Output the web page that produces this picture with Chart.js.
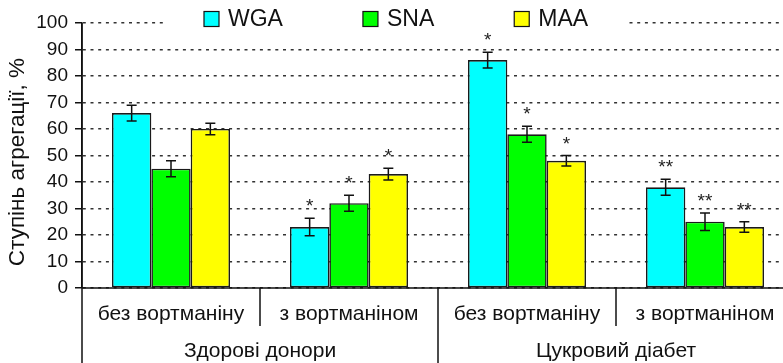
<!DOCTYPE html>
<html>
<head>
<meta charset="utf-8">
<script src="https://cdn.jsdelivr.net/npm/chart.js@4/dist/chart.umd.min.js"></script>
<style>
  html, body { margin: 0; padding: 0; background: #fff; overflow: hidden; }
  #wrap { width: 783px; height: 363px; overflow: hidden; }
</style>
</head>
<body>
<div id="wrap"><canvas id="c" width="800" height="363"></canvas></div>
<script>
// Categories: treatment (inner level) and patient group (outer level)
const categories = ['без вортманіну', 'з вортманіном', 'без вортманіну', 'з вортманіном'];
const groups = ['Здорові донори', 'Цукровий діабет'];

// Series names and colours
const seriesNames = ['WGA', 'SNA', 'MAA'];
const seriesColors = ['#00FFFF', '#00FF00', '#FFFF00'];

// Mean aggregation degree, %
const wgaValues = [66, 23, 86, 38];
const snaValues = [45, 32, 58, 25];
const maaValues = [60, 43, 48, 23];

// Error (±)
const wgaErrors = [3, 3.3, 3, 3];
const snaErrors = [3, 3, 3, 3.3];
const maaErrors = [2.2, 2.2, 2, 2];

// Significance marks
const wgaMarks = ['', '*', '*', '**'];
const snaMarks = ['', '*', '*', '**'];
const maaMarks = ['', '*', '*', '**'];

// Y axis ticks
const yMin = 0, yMax = 100, yStep = 10;
const yTitle = 'Ступінь агрегації, %';

const FONT = '"Liberation Sans", Arial, sans-serif';

const valueSets = [wgaValues, snaValues, maaValues];
const errorSets = [wgaErrors, snaErrors, maaErrors];
const markSets = [wgaMarks, snaMarks, maaMarks];

const datasets = seriesNames.map((name, i) => ({
  label: name,
  data: valueSets[i],
  errors: errorSets[i],
  marks: markSets[i],
  backgroundColor: seriesColors[i],
  borderColor: '#1a1a1a',
  borderWidth: 1.6,
  borderSkipped: false,
  categoryPercentage: 0.663,
  barPercentage: 1.0
}));

// Legend drawn over the top grid line, before the bars and marks
const legendPlugin = {
  id: 'topLegend',
  beforeDatasetsDraw(chart) {
    const ctx = chart.ctx;
    ctx.save();
    ctx.fillStyle = '#fff';
    ctx.fillRect(166, 6, 462, 26);
    ctx.font = '23px ' + FONT;
    ctx.textAlign = 'left';
    ctx.textBaseline = 'middle';
    let lx = 204;
    const ly = 19;
    chart.data.datasets.forEach((ds) => {
      ctx.fillStyle = ds.backgroundColor;
      ctx.fillRect(lx, ly - 7.5, 15, 15);
      ctx.strokeStyle = '#111';
      ctx.lineWidth = 1.2;
      ctx.strokeRect(lx, ly - 7.5, 15, 15);
      ctx.fillStyle = '#111';
      ctx.fillText(ds.label, lx + 24, ly + 1);
      lx += 24 + ctx.measureText(ds.label).width + 80;
    });
    ctx.restore();
  }
};

// Error bars with significance marks above them
const errorBarPlugin = {
  id: 'errorBars',
  afterDatasetsDraw(chart) {
    const ctx = chart.ctx;
    const y = chart.scales.y;
    ctx.save();
    chart.data.datasets.forEach((ds, di) => {
      const meta = chart.getDatasetMeta(di);
      meta.data.forEach((bar, j) => {
        const v = ds.data[j], e = ds.errors[j];
        const yt = y.getPixelForValue(v + e);
        const yb = y.getPixelForValue(v - e);
        const x = bar.x, cap = 5;
        ctx.strokeStyle = '#111';
        ctx.lineWidth = 1.5;
        ctx.beginPath();
        ctx.moveTo(x, yt); ctx.lineTo(x, yb);
        ctx.moveTo(x - cap, yt); ctx.lineTo(x + cap, yt);
        ctx.moveTo(x - cap, yb); ctx.lineTo(x + cap, yb);
        ctx.stroke();
        const m = ds.marks[j];
        if (m) {
          ctx.fillStyle = '#222';
          ctx.font = '19px ' + FONT;
          ctx.textAlign = 'center';
          ctx.textBaseline = 'alphabetic';
          ctx.fillText(m, x, yt - 6);
        }
      });
    });
    ctx.restore();
  }
};

// Two-level category axis and y title
const decorPlugin = {
  id: 'decor',
  afterDraw(chart) {
    const ctx = chart.ctx;
    const area = chart.chartArea;
    const xs = chart.scales.x;
    const H = chart.height;
    ctx.save();
    ctx.strokeStyle = '#111';
    ctx.lineWidth = 1.5;

    // axis lines
    ctx.beginPath();
    ctx.moveTo(area.left, area.bottom); ctx.lineTo(area.right, area.bottom);
    ctx.moveTo(area.left, area.top); ctx.lineTo(area.left, H);
    ctx.stroke();

    // separators between categories
    const n = categories.length;
    const perGroup = n / groups.length;
    for (let i = 1; i < n; i++) {
      const bx = (xs.getPixelForValue(i - 1) + xs.getPixelForValue(i)) / 2;
      const toBottom = (i % perGroup === 0);
      ctx.beginPath();
      ctx.moveTo(bx, area.bottom);
      ctx.lineTo(bx, toBottom ? H : area.bottom + 38);
      ctx.stroke();
    }

    // category and group labels
    ctx.fillStyle = '#111';
    ctx.textAlign = 'center';
    ctx.textBaseline = 'middle';
    ctx.font = '21px ' + FONT;
    categories.forEach((c, i) => {
      ctx.fillText(c, xs.getPixelForValue(i), area.bottom + 26);
    });
    groups.forEach((g, k) => {
      const a = xs.getPixelForValue(k * perGroup);
      const b = xs.getPixelForValue(k * perGroup + perGroup - 1);
      ctx.fillText(g, (a + b) / 2, area.bottom + 63);
    });

    // y axis title
    ctx.save();
    ctx.translate(18, 162);
    ctx.rotate(-Math.PI / 2);
    ctx.font = '22.5px ' + FONT;
    ctx.fillText(yTitle, 0, 0);
    ctx.restore();
    ctx.restore();
  }
};

new Chart(document.getElementById('c'), {
  type: 'bar',
  data: { labels: categories, datasets },
  options: {
    responsive: false,
    animation: false,
    devicePixelRatio: 1,
    layout: { padding: { top: 23, right: 6, bottom: 75, left: 0 } },
    plugins: { legend: { display: false }, tooltip: { enabled: false } },
    scales: {
      x: { display: false },
      y: {
        min: yMin, max: yMax,
        afterFit(scale) { scale.width = 82; },
        ticks: {
          stepSize: yStep,
          color: '#111',
          padding: 7,
          font: { family: FONT, size: 19 }
        },
        grid: {
          color: '#333',
          lineWidth: 1.5,
          tickLength: 7,
          tickColor: '#111',
          tickWidth: 1.5,
          tickBorderDash: []
        },
        border: { display: true, color: '#111', width: 1.5, dash: [3, 4.7], dashOffset: -8 }
      }
    }
  },
  plugins: [legendPlugin, errorBarPlugin, decorPlugin]
});
</script>
</body>
</html>
